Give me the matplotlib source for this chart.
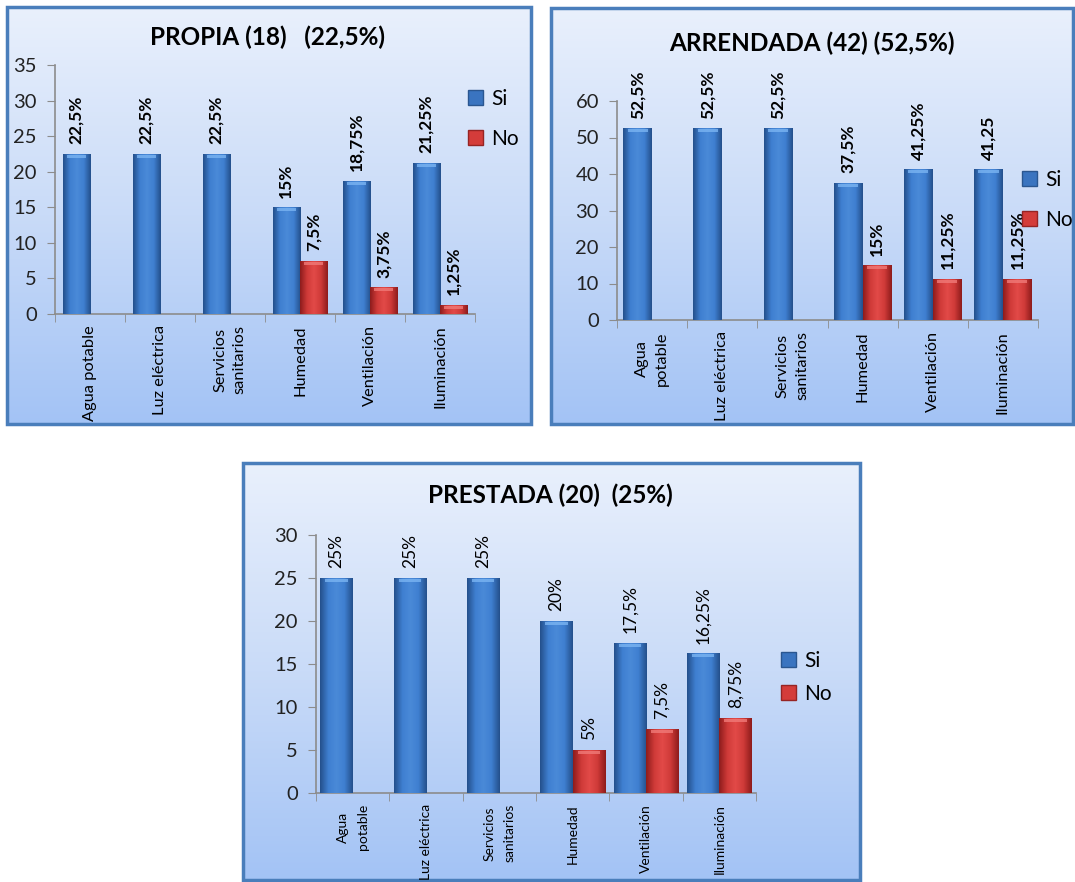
import numpy as np
import matplotlib
matplotlib.use("Agg")
import matplotlib.pyplot as plt
from matplotlib.patches import Rectangle, Patch
from matplotlib.colors import LinearSegmentedColormap

plt.rcParams['font.family'] = ['Lato', 'DejaVu Sans']

# Datos de cada tenencia de la vivienda
categorias_1 = ["Agua potable", "Luz eléctrica", "Servicios\nsanitarios", "Humedad", "Ventilación", "Iluminación"]
categorias_2 = ["Agua\npotable", "Luz eléctrica", "Servicios\nsanitarios", "Humedad", "Ventilación", "Iluminación"]

propia_si = [22.5, 22.5, 22.5, 15, 18.75, 21.25]
propia_no = [0, 0, 0, 7.5, 3.75, 1.25]
propia_si_lbl = ["22,5%", "22,5%", "22,5%", "15%", "18,75%", "21,25%"]
propia_no_lbl = ["", "", "", "7,5%", "3,75%", "1,25%"]

arrendada_si = [52.5, 52.5, 52.5, 37.5, 41.25, 41.25]
arrendada_no = [0, 0, 0, 15, 11.25, 11.25]
arrendada_si_lbl = ["52,5%", "52,5%", "52,5%", "37,5%", "41,25%", "41,25"]
arrendada_no_lbl = ["", "", "", "15%", "11,25%", "11,25%"]

prestada_si = [25, 25, 25, 20, 17.5, 16.25]
prestada_no = [0, 0, 0, 5, 7.5, 8.75]
prestada_si_lbl = ["25%", "25%", "25%", "20%", "17,5%", "16,25%"]
prestada_no_lbl = ["", "", "", "5%", "7,5%", "8,75%"]

W, H = 1075, 882
fig = plt.figure(figsize=(W / 100, H / 100), dpi=100)
fig.patch.set_facecolor('white')

AZUL = ('#24508c', '#3f7fd0', '#4a8ad8', '#3f7fd0', '#24508c')
ROJO = ('#8e1c1c', '#cf3a38', '#e24a48', '#cf3a38', '#8e1c1c')
AZUL_TAPA = '#7ab4f2'
ROJO_TAPA = '#f07a78'


def ejes_px(x0, y0, x1, y1):
    return fig.add_axes([x0 / W, 1 - y1 / H, (x1 - x0) / W, (y1 - y0) / H])


def fondo(x0, y0, x1, y1):
    ax = ejes_px(x0, y0, x1, y1)
    grad = np.linspace(0, 1, 256).reshape(-1, 1)
    cmap = LinearSegmentedColormap.from_list('fondo', ['#e9f0fc', '#c9dbf8', '#a3c3f5'])
    ax.imshow(grad, aspect='auto', cmap=cmap, extent=[0, 1, 0, 1], origin='upper')
    ax.set_xlim(0, 1)
    ax.set_ylim(0, 1)
    ax.axis('off')
    ax.add_patch(Rectangle((0, 0), 1, 1, transform=ax.transAxes, fill=False,
                           edgecolor='#4a7ebb', linewidth=2.5, clip_on=False))
    return ax


def barras(ax, x, valores, ancho, colores, tapa, ymax, alto_px):
    bars = ax.bar(x, valores, ancho, color=colores[2], edgecolor='none', zorder=2)
    cmap = LinearSegmentedColormap.from_list('barra', colores)
    g = np.linspace(0, 1, 64).reshape(1, -1)
    unidad = ymax / alto_px
    for b in bars:
        h = b.get_height()
        if h <= 0:
            continue
        x0 = b.get_x()
        im = ax.imshow(g, aspect='auto', cmap=cmap,
                       extent=[x0, x0 + ancho, 0, h], zorder=3)
        im.set_clip_path(b)
        # brillo en la parte superior de la barra
        ax.add_patch(Rectangle((x0 + ancho * 0.15, h - 4 * unidad), ancho * 0.7,
                               3 * unidad, color=tapa, alpha=0.8, zorder=4,
                               linewidth=0))
    return bars


def grafico(rect_panel, rect_ejes, titulo, titulo_xy, cats, si, no, si_lbl, no_lbl,
            ymax, paso, ancho, leg_xy, leg_esp, interlinea, tam_cat, negrita=True):
    fondo(*rect_panel)
    ax = ejes_px(*rect_ejes)
    ax.set_facecolor('none')
    alto_px = rect_ejes[3] - rect_ejes[1]
    x = np.arange(6) + 0.5
    barras(ax, x - ancho / 2, si, ancho, AZUL, AZUL_TAPA, ymax, alto_px)
    barras(ax, x + ancho / 2, no, ancho, ROJO, ROJO_TAPA, ymax, alto_px)
    ax.set_ylim(0, ymax)
    ax.set_xlim(0, 6)

    peso = 'bold' if negrita else 'normal'
    for xi, v, t in zip(x - ancho / 2, si, si_lbl):
        ax.annotate(t, (xi, v), xytext=(0, 7), textcoords='offset points',
                    rotation=90, ha='center', va='bottom', fontsize=12.5,
                    fontweight=peso, color='black')
    for xi, v, t in zip(x + ancho / 2, no, no_lbl):
        if t:
            ax.annotate(t, (xi, v), xytext=(0, 7), textcoords='offset points',
                        rotation=90, ha='center', va='bottom', fontsize=12.5,
                        fontweight=peso, color='black')

    for s in ['top', 'right']:
        ax.spines[s].set_visible(False)
    for s in ['left', 'bottom']:
        ax.spines[s].set_color('#8c8c8c')
        ax.spines[s].set_linewidth(1.2)

    ax.set_yticks(np.arange(0, ymax + 1, paso))
    ax.tick_params(axis='y', length=6, color='#8c8c8c', labelsize=14.5,
                   labelcolor='#222222', pad=7)
    ax.set_xticks(x)
    ax.set_xticklabels(cats, rotation=90, fontsize=tam_cat, linespacing=interlinea)
    ax.set_xticks(np.arange(7), minor=True)
    ax.tick_params(axis='x', which='major', length=0, pad=8)
    ax.tick_params(axis='x', which='minor', length=6, color='#8c8c8c')

    fig.text(titulo_xy[0] / W, 1 - titulo_xy[1] / H, titulo, ha='center', va='center',
             fontsize=17.5, fontweight='bold', color='black')

    handles = [Patch(facecolor='#3a74c0', edgecolor='#2a5690', label='Si'),
               Patch(facecolor='#d43c3a', edgecolor='#962424', label='No')]
    fig.legend(handles=handles, loc='upper left',
               bbox_to_anchor=(leg_xy[0] / W, 1 - leg_xy[1] / H),
               frameon=False, fontsize=15, handlelength=0.7, handleheight=0.7,
               handletextpad=0.4, labelspacing=leg_esp, borderpad=0,
               borderaxespad=0)
    return ax


grafico((7, 7, 531, 424), (55, 65, 475, 314), "PROPIA (18)   (22,5%)", (268, 37),
        categorias_1, propia_si, propia_no, propia_si_lbl, propia_no_lbl,
        35, 5, 0.39, (468, 89), 0.95, 1.4, 11.8)

grafico((551, 8, 1073, 424), (617, 101, 1038, 320), "ARRENDADA (42) (52,5%)", (812, 43),
        categorias_2, arrendada_si, arrendada_no, arrendada_si_lbl, arrendada_no_lbl,
        60, 10, 0.41, (1022, 170), 0.95, 1.55, 11.8)

grafico((243, 463, 860, 880), (316, 535, 756, 793), "PRESTADA (20)  (25%)", (550, 495),
        categorias_2, prestada_si, prestada_no, prestada_si_lbl, prestada_no_lbl,
        30, 5, 0.44, (781, 651), 0.6, 1.8, 10, negrita=False)

fig.savefig('out.png', dpi=100)
